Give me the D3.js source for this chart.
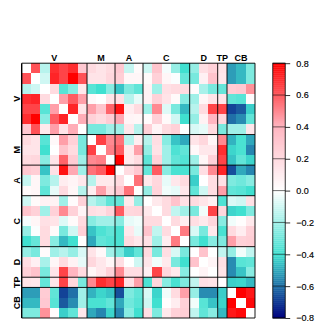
<!DOCTYPE html>
<html><head><meta charset="utf-8">
<script src="https://cdnjs.cloudflare.com/ajax/libs/d3/7.8.5/d3.min.js"></script>
<style>html,body{margin:0;padding:0;background:#fff}svg{display:block}text{font-family:"Liberation Sans",Arial,sans-serif;fill:#000}</style>
</head><body><svg id="c" width="329" height="329"></svg>
<script>
const groupNames=["V","M","A","C","D","TP","CB"];
const groupSizes=[7,3,3,5,3,1,3];
const colorDomain=[-0.8,-0.4,0,0.4,0.8];
const colorRange=["#00007f","#40e0d0","#ffffff","#ffb6c1","#ff0000"];
const colorTicks=[0.8,0.6,0.4,0.2,0,-0.2,-0.4,-0.6,-0.8];
const matrix=[
[null,.62,-.15,.7,.65,.7,.3,.2,.15,.2,.3,-.12,.03,-.1,.32,-.02,-.22,-.4,-.22,.18,.25,.15,-.52,-.47,-.27],
[.62,null,-.1,.72,.65,.8,.62,.15,.15,.22,.27,.05,.05,.03,.25,.05,-.01,-.32,-.28,.08,.33,.13,-.52,-.47,-.27],
[-.15,-.1,null,.2,-.35,-.25,.12,-.35,-.4,-.25,-.45,-.27,-.33,.07,-.2,.17,.2,.2,.02,-.18,-.28,-.32,.28,.3,.48],
[.7,.72,.2,null,.45,.6,.45,.04,0,.15,.17,-.15,-.05,.07,.25,.15,.03,-.25,-.2,.05,.15,.14,-.33,-.35,.02],
[.65,.65,-.35,.45,null,.72,.15,.45,.32,.58,.76,.1,.2,-.2,.5,-.07,-.28,-.47,-.15,.2,.65,.65,-.68,-.64,-.43],
[.7,.8,-.25,.6,.72,null,.42,.25,.2,.28,.43,.06,.05,.02,.25,.03,-.1,-.4,-.22,.07,.4,.22,-.6,-.55,-.33],
[.3,.62,.12,.45,.15,.42,null,-.28,-.28,-.2,-.2,.13,-.15,.25,.06,.2,.25,0,-.08,-.05,.2,-.28,-.2,-.2,.13],
[.2,.15,-.35,.04,.45,.25,-.28,null,.66,.5,.55,-.15,.1,-.15,.18,-.25,-.45,-.5,.15,.22,.05,.5,-.48,-.38,-.5],
[.15,.15,-.4,0,.32,.2,-.28,.66,null,.52,.6,.12,.45,-.22,.16,-.2,-.37,-.33,.04,.13,.13,.7,-.42,-.38,-.56],
[.2,.22,-.25,.15,.58,.28,-.2,.5,.52,null,.8,.12,.2,-.33,.24,-.2,-.33,-.36,-.2,.05,.25,.65,-.45,-.33,-.42],
[.3,.27,-.45,.17,.76,.43,-.2,.55,.6,.8,null,.2,.3,-.32,.6,-.25,-.38,-.38,-.28,.18,.5,.72,-.66,-.5,-.56],
[-.12,.05,-.27,-.15,.1,.06,.13,-.15,.12,.12,.2,null,.55,.12,.22,-.05,.13,.2,-.43,0,.18,.17,-.27,-.3,-.25],
[.03,.05,-.33,-.05,.2,.05,-.15,.1,.45,.2,.3,.55,null,-.22,.23,-.03,-.05,.13,-.33,-.1,.18,.45,-.33,-.35,-.4],
[-.1,.03,.07,.07,-.2,.02,.25,-.15,-.22,-.33,-.32,.12,-.22,null,.12,.2,.33,.17,.2,.14,.08,-.37,-.08,-.1,.17],
[.32,.25,-.2,.25,.5,.25,.06,.18,.16,.24,.6,.22,.23,.12,null,.2,-.13,-.2,-.28,-.03,.65,.22,-.42,-.4,-.27],
[-.02,.05,.17,.15,-.07,.03,.2,-.25,-.2,-.2,-.25,-.05,-.03,.2,.2,null,.2,.1,.18,.12,.22,-.25,-.03,.01,.12],
[-.22,-.01,.2,.03,-.28,-.1,.25,-.45,-.37,-.33,-.38,.13,-.05,.33,-.13,.2,null,.53,-.08,-.28,.12,-.38,.2,.1,.25],
[-.4,-.32,.2,-.25,-.47,-.4,0,-.5,-.33,-.36,-.38,.2,.13,.17,-.2,.1,.53,null,-.28,-.4,-.25,-.27,.45,.25,.27],
[-.22,-.28,.02,-.2,-.15,-.22,-.08,.15,.04,-.2,-.28,-.43,-.33,.2,-.28,.18,-.08,-.28,null,.33,0,-.13,-.22,-.03,-.13],
[.18,.08,-.18,.05,.2,.07,-.05,.22,.13,.05,.18,0,-.1,.14,-.03,.12,-.28,-.4,.33,null,.06,.17,-.55,-.35,-.33],
[.25,.33,-.28,.15,.65,.4,.2,.05,.13,.25,.5,.18,.18,.08,.65,.22,.12,-.25,0,.06,null,.15,-.55,-.45,-.25],
[.15,.13,-.32,.14,.65,.22,-.28,.5,.7,.65,.72,.17,.45,-.37,.22,-.25,-.38,-.27,-.13,.17,.15,null,-.43,-.42,-.47],
[-.52,-.52,.28,-.33,-.68,-.6,-.2,-.48,-.42,-.45,-.66,-.27,-.33,-.08,-.42,-.03,.2,.45,-.22,-.55,-.55,-.43,null,.8,.75],
[-.47,-.47,.3,-.35,-.64,-.55,-.2,-.38,-.38,-.33,-.5,-.3,-.35,-.1,-.4,.01,.1,.25,-.03,-.35,-.45,-.42,.8,null,.78],
[-.27,-.27,.48,.02,-.43,-.33,.13,-.5,-.56,-.42,-.56,-.25,-.4,.17,-.27,.12,.25,.27,-.13,-.33,-.25,-.47,.75,.78,null]
];

const svg=d3.select("#c");
const plot={l:21.7,r:255,t:63.2,b:318};
const n=matrix.length;
const idx=d3.range(n);
const x=d3.scaleBand().domain(idx).range([plot.l,plot.r]);
const y=d3.scaleBand().domain(idx).range([plot.t,plot.b]);
const color=d3.scaleLinear().domain(colorDomain).range(colorRange).clamp(true);

// cells
svg.append("g").selectAll("g").data(matrix).join("g")
 .attr("transform",(d,i)=>`translate(0,${y(i)})`)
 .selectAll("rect").data(d=>d).join("rect")
 .attr("x",(d,j)=>x(j)).attr("width",x.bandwidth()).attr("height",y.bandwidth())
 .attr("shape-rendering","crispEdges")
 .attr("fill",d=>d===null?"#fff":color(d));

// group boundaries
const edges=[0];groupSizes.forEach(s=>edges.push(edges[edges.length-1]+s));
const xe=k=>plot.l+k*x.step(), ye=k=>plot.t+k*y.step();
const lines=svg.append("g").attr("stroke","#000").attr("fill","none");
edges.forEach(k=>{
  lines.append("line").attr("x1",xe(k)).attr("x2",xe(k)).attr("y1",plot.t).attr("y2",plot.b)
   .attr("stroke-width",k===0?1.4:1).attr("stroke-opacity",k===0?1:.9);
  lines.append("line").attr("x1",plot.l).attr("x2",plot.r).attr("y1",ye(k)).attr("y2",ye(k))
   .attr("stroke-width",1).attr("stroke-opacity",.9);
});

// group labels
groupNames.forEach((g,i)=>{
  const mid=(edges[i]+edges[i+1])/2;
  svg.append("text").attr("x",xe(mid)).attr("y",61).attr("text-anchor","middle")
   .attr("font-size",9).attr("font-weight","bold").text(g);
  svg.append("text").attr("transform",`translate(20,${ye(mid)}) rotate(-90)`).attr("text-anchor","middle")
   .attr("font-size",9).attr("font-weight","bold").text(g);
});

// colour bar
const bar={l:272.8,r:285.2};
const cy=d3.scaleLinear().domain([-0.8,0.8]).range([plot.b,plot.t]);
const steps=d3.range(0,128).map(i=>-0.8+(i+.5)*1.6/128);
svg.append("g").selectAll("rect").data(steps).join("rect")
 .attr("x",bar.l).attr("width",bar.r-bar.l)
 .attr("y",d=>cy(d+.8/128)).attr("height",(plot.b-plot.t)/128+.3)
 .attr("fill",d=>color(d));
const ax=d3.axisRight(cy).tickValues(colorTicks).tickSize(5).tickPadding(6)
 .tickFormat(d=>d3.format(".1f")(d).replace("-","\u2212"));
const ag=svg.append("g").attr("transform",`translate(${bar.r},0)`).call(ax);
ag.select(".domain").remove();
ag.selectAll("line").attr("stroke","#000").attr("stroke-width",.8);
ag.selectAll("text").attr("font-size",9).attr("font-weight","normal").attr("font-family",'"Liberation Sans",Arial,sans-serif').attr("stroke","#000").attr("stroke-width",.15);
svg.append("g").selectAll("line").data(colorTicks).join("line")
 .attr("x1",bar.l).attr("x2",bar.r).attr("y1",d=>cy(d)).attr("y2",d=>cy(d))
 .attr("stroke","#000").attr("stroke-opacity",.7).attr("stroke-width",.8);
svg.append("rect").attr("x",bar.l).attr("y",plot.t).attr("width",bar.r-bar.l).attr("height",plot.b-plot.t)
 .attr("fill","none").attr("stroke","#000").attr("stroke-width",.8);
</script></body></html>
